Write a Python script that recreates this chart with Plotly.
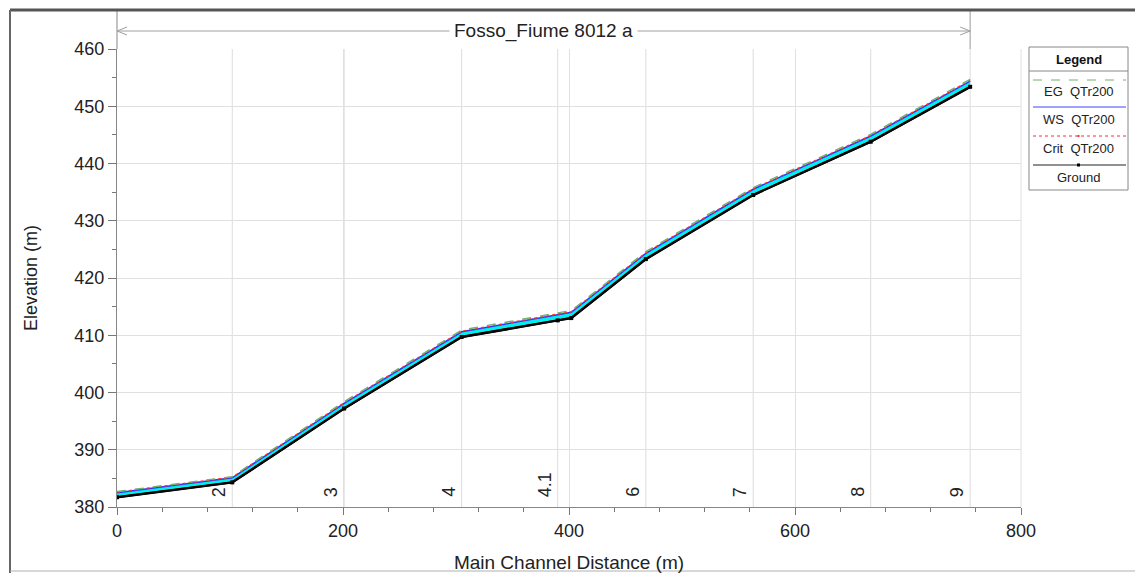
import plotly.graph_objects as go

# River stations along the reach
station_labels = ["1", "2", "3", "4", "4.1", "5", "6", "7", "8", "9"]
main_channel_distance = [0, 102, 201, 305, 390, 402, 468, 563, 667, 755]

# Profile elevations (m) for QTr200
ground_elev = [381.7, 384.3, 397.2, 409.7, 412.6, 413.0, 423.3, 434.5, 443.8, 453.4]
ws_elev = [382.5, 385.1, 398.1, 410.6, 413.6, 414.0, 424.3, 435.5, 444.8, 454.4]
crit_elev = [382.6, 385.2, 398.2, 410.7, 413.7, 414.1, 424.4, 435.6, 444.9, 454.5]
eg_elev = [382.7, 385.3, 398.4, 410.9, 413.9, 414.3, 424.6, 435.8, 445.1, 454.7]

# Stations whose label is printed on the chart
shown_labels = ["2", "3", "4", "4.1", "6", "7", "8", "9"]

reach_name = "Fosso_Fiume 8012 a"
x_range = [0, 800]
y_range = [380, 460]

FONT = "Liberation Sans, Arial, sans-serif"

# plot-area geometry in pixels (figure is 1135 x 573)
FIG_W, FIG_H = 1135, 573
L, R, T, B = 117, 1021, 49, 507


def px(xp):
    return (xp - L) / (R - L)


def py(yp):
    return (B - yp) / (B - T)


def dx(d):
    return (d - x_range[0]) / (x_range[1] - x_range[0])


fig = go.Figure()

# ground line (base of the water fill)
fig.add_trace(go.Scatter(
    x=main_channel_distance, y=ground_elev, mode="lines",
    line=dict(color="black", width=2), hoverinfo="skip", showlegend=False))
# water surface with cyan fill down to ground
fig.add_trace(go.Scatter(
    x=main_channel_distance, y=ws_elev, mode="lines", fill="tonexty",
    fillcolor="#00f0f0", line=dict(color="#3030ff", width=1.5),
    name="WS QTr200", showlegend=False))
fig.add_trace(go.Scatter(
    x=main_channel_distance, y=crit_elev, mode="lines",
    line=dict(color="#ff3030", width=1.4, dash="dot"),
    name="Crit QTr200", showlegend=False))
fig.add_trace(go.Scatter(
    x=main_channel_distance, y=eg_elev, mode="lines",
    line=dict(color="#70b070", width=1.4, dash="dash"),
    name="EG QTr200", showlegend=False))
# ground markers on top
fig.add_trace(go.Scatter(
    x=main_channel_distance, y=ground_elev, mode="lines+markers",
    line=dict(color="black", width=2.5),
    marker=dict(color="black", size=4, symbol="square"),
    name="Ground", showlegend=False))

shapes = []
annotations = []

# station lines and labels
for lab, d in zip(station_labels, main_channel_distance):
    if lab not in shown_labels:
        continue
    shapes.append(dict(type="line", xref="x", yref="paper", x0=d, x1=d, y0=0, y1=1,
                       line=dict(color="#dcdcdc", width=1), layer="below"))
    annotations.append(dict(x=d, y=0, xref="x", yref="paper", text=lab, showarrow=False,
                            textangle=-90, xanchor="right", yanchor="bottom",
                            xshift=-1, yshift=8,
                            font=dict(family=FONT, size=18, color="#222")))

# reach extent above the plot
x_end = dx(main_channel_distance[-1])
shapes.append(dict(type="line", xref="paper", yref="paper", x0=x_end, x1=x_end,
                   y0=1, y1=py(10), line=dict(color="#999", width=1)))
shapes.append(dict(type="line", xref="paper", yref="paper", x0=0, x1=0,
                   y0=1, y1=py(10), line=dict(color="#888", width=1)))
ya = py(31)
shapes.append(dict(type="line", xref="paper", yref="paper", x0=0, x1=x_end,
                   y0=ya, y1=ya, line=dict(color="#a0a0a0", width=1)))
ah_w = 10 / (R - L)
ah_h = 4 / (B - T)
shapes.append(dict(type="path", xref="paper", yref="paper",
                   path=f"M {ah_w} {ya + ah_h} L 0 {ya} L {ah_w} {ya - ah_h}",
                   line=dict(color="#a0a0a0", width=1)))
shapes.append(dict(type="path", xref="paper", yref="paper",
                   path=f"M {x_end - ah_w} {ya + ah_h} L {x_end} {ya} L {x_end - ah_w} {ya - ah_h}",
                   line=dict(color="#a0a0a0", width=1)))
annotations.append(dict(x=x_end / 2, y=ya, xref="paper", yref="paper", text=reach_name,
                        showarrow=False, bgcolor="white", borderpad=4,
                        xanchor="center", yanchor="middle",
                        font=dict(family=FONT, size=19, color="#222")))

# outer frame
shapes.append(dict(type="line", xref="paper", yref="paper", x0=px(10), x1=px(1135),
                   y0=py(10), y1=py(10), line=dict(color="#555", width=3)))
shapes.append(dict(type="line", xref="paper", yref="paper", x0=px(10), x1=px(10),
                   y0=py(10), y1=py(573), line=dict(color="#666", width=2)))
shapes.append(dict(type="line", xref="paper", yref="paper", x0=px(10), x1=px(1135),
                   y0=py(571), y1=py(571), line=dict(color="#b0b0b0", width=1)))

# legend box
lx0, lx1, ly0, ly1 = 1029, 1128, 47, 190
shapes.append(dict(type="rect", xref="paper", yref="paper", x0=px(lx0), x1=px(lx1),
                   y0=py(ly0), y1=py(ly1), line=dict(color="#888", width=1),
                   fillcolor="white"))
shapes.append(dict(type="line", xref="paper", yref="paper", x0=px(lx0), x1=px(lx1),
                   y0=py(71), y1=py(71), line=dict(color="#888", width=1)))
lcx = (lx0 + lx1) / 2
annotations.append(dict(x=px(lcx), y=py(59), xref="paper", yref="paper", text="<b>Legend</b>",
                        showarrow=False, xanchor="center", yanchor="middle",
                        font=dict(family=FONT, size=13, color="#111")))
legend_items = [
    ("EG  QTr200", 80, 91, dict(color="#70b070", width=1, dash="dash")),
    ("WS  QTr200", 107, 119, dict(color="#8080ff", width=1.5)),
    ("Crit  QTr200", 136, 148, dict(color="#ff3030", width=1, dash="dot")),
    ("Ground", 165, 177, dict(color="#222", width=1)),
]
for text, yl, yt, ln in legend_items:
    shapes.append(dict(type="line", xref="paper", yref="paper", x0=px(1033), x1=px(1126),
                       y0=py(yl), y1=py(yl), line=ln))
    annotations.append(dict(x=px(lcx), y=py(yt), xref="paper", yref="paper", text=text,
                            showarrow=False, xanchor="center", yanchor="middle",
                            font=dict(family=FONT, size=13, color="#222")))
# marker samples in legend
shapes.append(dict(type="rect", xref="paper", yref="paper",
                   x0=px(lcx - 1.5), x1=px(lcx + 1.5), y0=py(163.5), y1=py(166.5),
                   fillcolor="black", line=dict(width=0)))
shapes.append(dict(type="rect", xref="paper", yref="paper",
                   x0=px(lcx - 1), x1=px(lcx + 1), y0=py(135), y1=py(137),
                   fillcolor="#ff3030", line=dict(width=0)))

fig.update_layout(
    width=FIG_W, height=FIG_H, autosize=False,
    margin=dict(l=L, r=FIG_W - R, t=T, b=FIG_H - B, pad=0, autoexpand=False),
    paper_bgcolor="white", plot_bgcolor="white",
    font=dict(family=FONT, size=17, color="#222"),
    shapes=shapes, annotations=annotations, showlegend=False,
)
fig.update_xaxes(
    range=x_range, dtick=200, tick0=0, showgrid=True, gridcolor="#e0e0e0", gridwidth=1,
    zeroline=False, showline=True, linecolor="#888", linewidth=1, automargin=False,
    ticks="outside", ticklen=7, tickcolor="#777",
    minor=dict(dtick=40, ticks="outside", ticklen=4, tickcolor="#777", showgrid=False),
    tickfont=dict(family=FONT, size=18, color="#222"),
    title=dict(text="Main Channel Distance (m)", standoff=27,
               font=dict(family=FONT, size=19, color="#222")),
)
fig.update_yaxes(
    range=y_range, dtick=10, tick0=380, showgrid=True, gridcolor="#e0e0e0", gridwidth=1,
    zeroline=False, showline=True, linecolor="#888", linewidth=1, automargin=False,
    ticks="outside", ticklen=8, tickcolor="#777",
    minor=dict(dtick=5, ticks="outside", ticklen=4, tickcolor="#777", showgrid=False),
    tickfont=dict(family=FONT, size=18, color="#222"),
    title=dict(text="Elevation (m)", standoff=32,
               font=dict(family=FONT, size=18, color="#222")),
)
# right border of the plot area
fig.add_shape(type="line", xref="paper", yref="paper", x0=1, x1=1, y0=0, y1=1,
              line=dict(color="#e0e0e0", width=1), layer="below")

fig.write_html("out.html")
